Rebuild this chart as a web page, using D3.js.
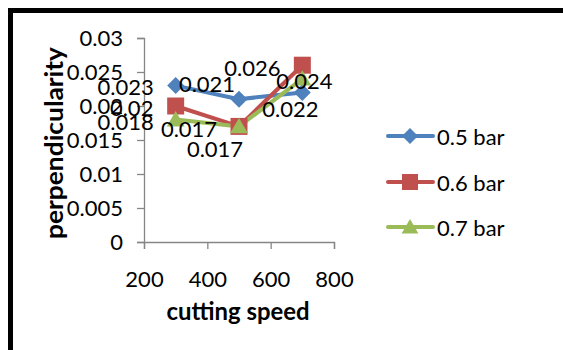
<!DOCTYPE html>
<html><head><meta charset="utf-8">
<script src="https://cdn.jsdelivr.net/npm/d3@7"></script>
<style>body{margin:0;background:#fff}svg{display:block}</style>
</head><body><svg id="c" width="563" height="350"></svg>
<script>
const speeds = [300, 500, 700];
const seriesNames = ["0.5 bar", "0.6 bar", "0.7 bar"];
const bar05 = [0.023, 0.021, 0.022];
const bar06 = [0.02, 0.017, 0.026];
const bar07 = [0.018, 0.017, 0.024];
const yTicks = [0, 0.005, 0.01, 0.015, 0.02, 0.025, 0.03];
const yTickLabels = ["0", "0.005", "0.01", "0.015", "0.02", "0.025", "0.03"];
const xTicks = [200, 400, 600, 800];
const colors = ["#4F81BD", "#C0504D", "#9BBB59"];
const allSeries = [bar05, bar06, bar07];
// data label offsets (dx, dy) relative to point, per series per point
const labelOffsets = [
  [[-50, 1], [-32, -16], [-12, 16]],
  [[-44, 1], [-50, 2], [-50, 2]],
  [[-50, 2], [-24, 22], [2, 2]]
];

function marker(k, r) {
  if (k === 0) return `M0,${-r}L${r},0L0,${r}L${-r},0Z`;
  if (k === 1) return `M${-r},${-r}H${r}V${r}H${-r}Z`;
  return `M0,${-r}L${r * 1.05},${r * 0.8}H${-r * 1.05}Z`;
}

const svg = d3.select("#c");
const font = "Lato, 'Open Sans', sans-serif";
svg.append("rect").attr("x", 10.5).attr("y", 10.5).attr("width", 700).attr("height", 500)
  .attr("fill", "#fff").attr("stroke", "#000").attr("stroke-width", 5);

const x = d3.scaleLinear().domain([200, 800]).range([144, 334]);
const y = d3.scaleLinear().domain([0, 0.03]).range([242, 38]);

const yAxis = svg.append("g").attr("transform", "translate(144,0)")
  .call(d3.axisLeft(y).tickValues(yTicks).tickFormat((d, i) => yTickLabels[i]).tickSize(7).tickPadding(14));
const xAxis = svg.append("g").attr("transform", "translate(0,242)")
  .call(d3.axisBottom(x).tickValues(xTicks).tickFormat(d3.format("d")).tickSize(7).tickPadding(22));
[yAxis, xAxis].forEach(a => {
  a.select(".domain").attr("stroke", "#868686").attr("stroke-width", 1.3);
  a.selectAll(".tick line").attr("stroke", "#868686").attr("stroke-width", 1.3);
  a.selectAll("text").attr("fill", "#000").style("font-family", font).style("font-size", "22px");
});

const line = d3.line().x((d, i) => x(speeds[i])).y(d => y(d));
allSeries.forEach((s, k) => {
  svg.append("path").datum(s).attr("d", line).attr("fill", "none")
    .attr("stroke", colors[k]).attr("stroke-width", 4).attr("stroke-linejoin", "round");
});
allSeries.forEach((s, k) => {
  svg.selectAll(null).data(s).enter().append("path")
    .attr("transform", (d, i) => `translate(${x(speeds[i])},${y(d)})`)
    .attr("d", marker(k, 8.5))
    .attr("fill", colors[k]);
});
allSeries.forEach((s, k) => {
  svg.selectAll(null).data(s).enter().append("text")
    .attr("x", (d, i) => x(speeds[i]) + labelOffsets[k][i][0])
    .attr("y", (d, i) => y(d) + labelOffsets[k][i][1])
    .attr("text-anchor", "middle").attr("dominant-baseline", "central")
    .style("font-family", font).style("font-size", "22px")
    .text(d => String(d));
});

svg.append("text").attr("x", 238).attr("y", 310).attr("text-anchor", "middle")
  .attr("dominant-baseline", "central")
  .attr("textLength", 143).attr("lengthAdjust", "spacingAndGlyphs")
  .style("font-family", font).style("font-weight", "bold").style("font-size", "24px")
  .text("cutting speed");
svg.append("text").attr("transform", "translate(53,143) rotate(-90)").attr("text-anchor", "middle")
  .attr("dominant-baseline", "central")
  .attr("textLength", 192).attr("lengthAdjust", "spacingAndGlyphs")
  .style("font-family", font).style("font-weight", "bold").style("font-size", "24px")
  .text("perpendicularity");

const legendY = [136, 182, 227];
seriesNames.forEach((n, k) => {
  const g = svg.append("g");
  g.append("line").attr("x1", 388).attr("x2", 433).attr("y1", legendY[k]).attr("y2", legendY[k])
    .attr("stroke", colors[k]).attr("stroke-width", 4).attr("stroke-linecap", "round");
  g.append("path").attr("transform", `translate(410,${legendY[k]})`)
    .attr("d", marker(k, 8)).attr("fill", colors[k]);
  g.append("text").attr("x", 437).attr("y", legendY[k]).attr("dominant-baseline", "central")
    .style("font-family", font).style("font-size", "22px").text(n);
});
</script></body></html>
